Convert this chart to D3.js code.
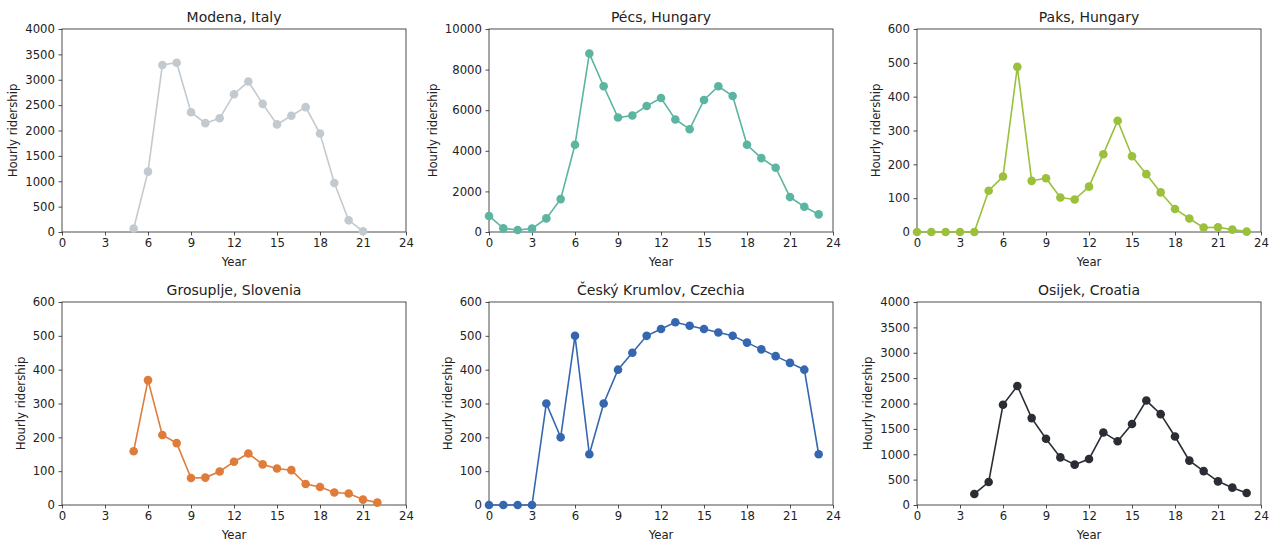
<!DOCTYPE html>
<html>
<head>
<meta charset="utf-8">
<script src="https://cdn.jsdelivr.net/npm/d3@7"></script>
<style>
  body { margin: 0; background: #fff; }
  svg text { font-family: "DejaVu Sans", sans-serif; fill: #222; }
</style>
</head>
<body>
<svg id="chart" width="1272" height="543"></svg>
<script>
// hours of day on x, ridership on y
var CITIES = ['Modena, Italy', 'Pécs, Hungary', 'Paks, Hungary',
  'Grosuplje, Slovenia', 'Český Krumlov, Czechia', 'Osijek, Croatia'];

var COLORS = ['#c3cacf', '#5bb5a1', '#9bc03c', '#e07c3a', '#3567b0', '#2a2d33'];

var HOURS_MODENA = [5, 6, 7, 8, 9, 10, 11, 12, 13, 14, 15, 16, 17, 18, 19, 20, 21];
var MODENA = [70, 1190, 3290, 3335, 2360, 2145, 2240, 2715, 2965, 2525, 2120, 2290, 2460, 1940, 965, 230, 15];

var HOURS_PECS = d3.range(0, 24);
var PECS = [790, 180, 100, 165, 670, 1620, 4295, 8790, 7180, 5640, 5740, 6210, 6600, 5540, 5065, 6505, 7180, 6700, 4295, 3640, 3165, 1720, 1245, 870];

var HOURS_PAKS = d3.range(0, 24);
var PAKS = [0, 0, 0, 0, 0, 122, 164, 488, 151, 159, 102, 96, 134, 230, 329, 224, 171, 117, 68, 40, 13, 14, 7, 1];

var HOURS_GROSUPLJE = [5, 6, 7, 8, 9, 10, 11, 12, 13, 14, 15, 16, 17, 18, 19, 20, 21, 22];
var GROSUPLJE = [159, 369, 207, 183, 80, 81, 99, 128, 152, 120, 108, 103, 62, 53, 37, 34, 16, 7];

var HOURS_KRUMLOV = d3.range(0, 24);
var KRUMLOV = [0, 0, 0, 0, 300, 200, 500, 150, 300, 400, 450, 500, 520, 540, 530, 520, 510, 500, 480, 460, 440, 420, 400, 150];

var HOURS_OSIJEK = [4, 5, 6, 7, 8, 9, 10, 11, 12, 13, 14, 15, 16, 17, 18, 19, 20, 21, 22, 23];
var OSIJEK = [218, 452, 1975, 2345, 1712, 1305, 938, 795, 905, 1430, 1255, 1595, 2058, 1790, 1350, 875, 668, 466, 342, 236];

var Y_MAX = [4000, 10000, 600, 600, 600, 4000];
var Y_STEP = [500, 2000, 100, 100, 100, 500];
var X_TICKS = [0, 3, 6, 9, 12, 15, 18, 21, 24];

var SERIES = [
  [HOURS_MODENA, MODENA], [HOURS_PECS, PECS], [HOURS_PAKS, PAKS],
  [HOURS_GROSUPLJE, GROSUPLJE], [HOURS_KRUMLOV, KRUMLOV], [HOURS_OSIJEK, OSIJEK]
];

var COL_X = [62, 489, 917];
var ROW_Y = [29, 302];
var W = 344, H = 203;

var svg = d3.select('#chart');

SERIES.forEach(function(s, i){
  var left = COL_X[i % 3], top = ROW_Y[Math.floor(i / 3)];
  var g = svg.append('g').attr('transform', 'translate(' + left + ',' + top + ')');

  var x = d3.scaleLinear().domain([0, 24]).range([0, W]);
  var y = d3.scaleLinear().domain([0, Y_MAX[i]]).range([H, 0]);

  var xAxis = g.append('g').attr('transform', 'translate(0,' + H + ')')
    .call(d3.axisBottom(x).tickValues(X_TICKS).tickFormat(d3.format('d')).tickSize(3.5).tickPadding(3));
  var yAxis = g.append('g')
    .call(d3.axisLeft(y).tickValues(d3.range(0, Y_MAX[i] + 1, Y_STEP[i]))
      .tickFormat(d3.format('d')).tickSize(3.5).tickPadding(3.5));

  [xAxis, yAxis].forEach(function(a){
    a.select('.domain').remove();
    a.selectAll('line').attr('stroke', '#222').attr('stroke-width', 0.8);
    a.selectAll('text').style('font-size', '11.7px').attr('fill', '#222');
  });

  // frame
  g.append('rect').attr('width', W).attr('height', H)
    .attr('fill', 'none').attr('stroke', '#222').attr('stroke-width', 0.8);

  var pts = s[0].map(function(h, k){ return [h, s[1][k]]; });

  g.append('path').datum(pts)
    .attr('fill', 'none').attr('stroke', COLORS[i]).attr('stroke-width', 1.6)
    .attr('d', d3.line().x(function(d){ return x(d[0]); }).y(function(d){ return y(d[1]); }));

  g.selectAll('.pt').data(pts).enter().append('circle')
    .attr('class', 'pt')
    .attr('cx', function(d){ return x(d[0]); })
    .attr('cy', function(d){ return y(d[1]); })
    .attr('r', 4.3)
    .attr('fill', COLORS[i]);

  g.append('text').attr('x', W / 2).attr('y', -7)
    .attr('text-anchor', 'middle').style('font-size', '14px')
    .text(CITIES[i]);

  g.append('text').attr('x', W / 2).attr('y', H + 34)
    .attr('text-anchor', 'middle').style('font-size', '11.7px')
    .text('Year');

  var maxW = 0;
  yAxis.selectAll('text').each(function(){
    maxW = Math.max(maxW, this.getComputedTextLength());
  });
  var lx = -(7 + maxW + 4 + 4);
  g.append('text')
    .attr('transform', 'translate(' + lx + ',' + (H / 2) + ') rotate(-90)')
    .attr('text-anchor', 'middle').style('font-size', '11.7px')
    .text('Hourly ridership');
});
</script>
</body>
</html>
